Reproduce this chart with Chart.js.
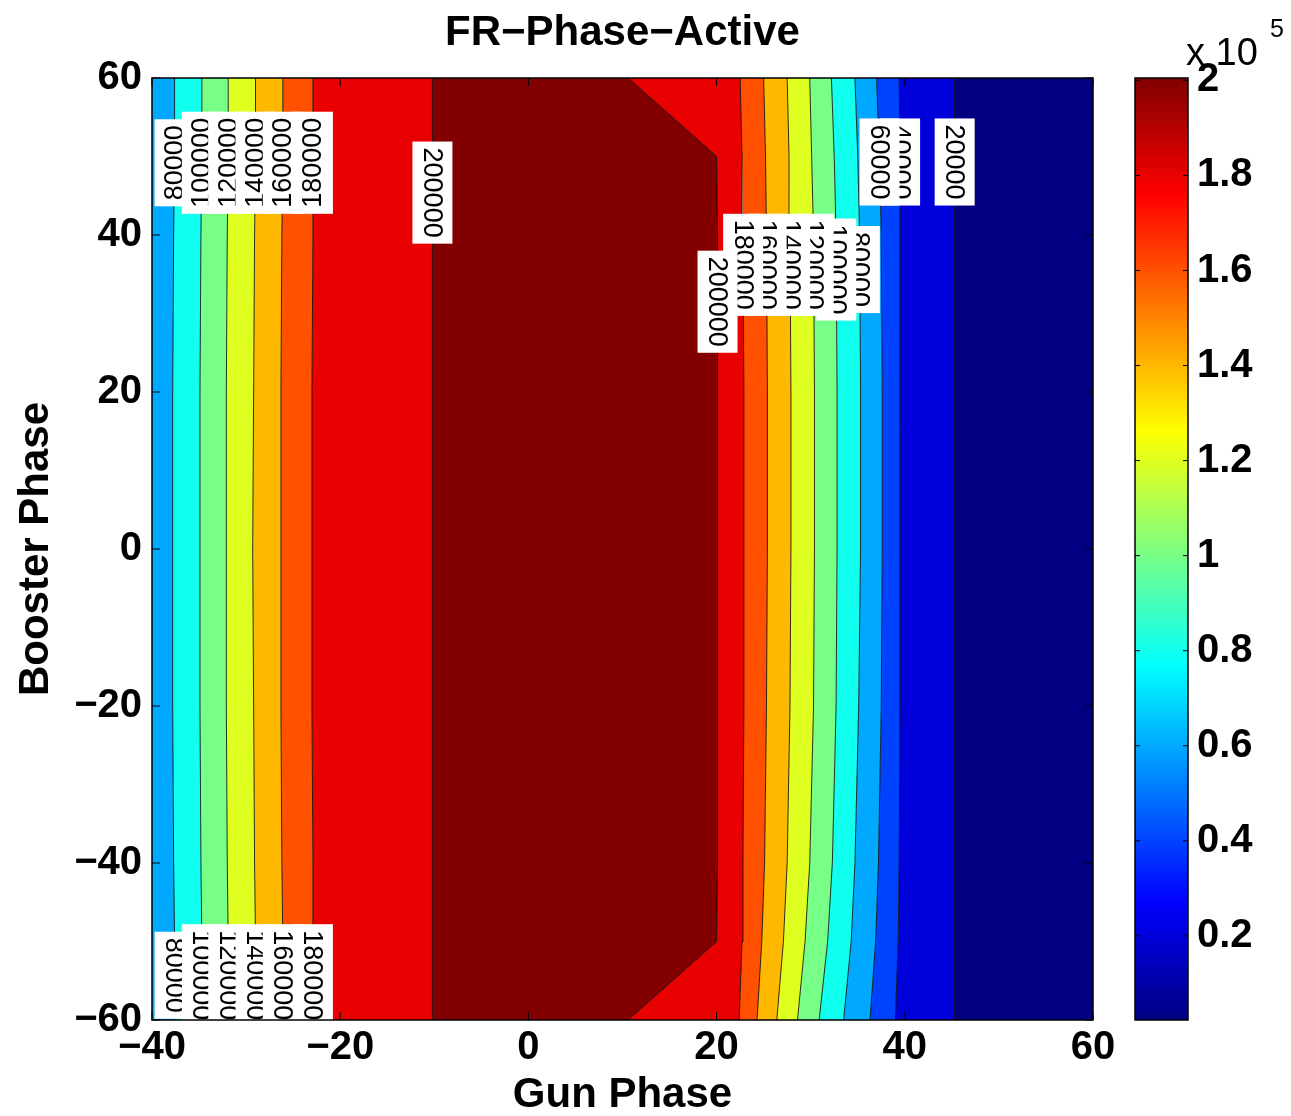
<!DOCTYPE html>
<html>
<head>
<meta charset="utf-8">
<script src="https://cdn.jsdelivr.net/npm/chart.js@4.4.1/dist/chart.umd.min.js"></script>
<style>
  html, body { margin: 0; padding: 0; background: #fff; }
</style>
</head>
<body>
<canvas id="myChart" width="1291" height="1116"></canvas>
<script>
// axis ticks
const gunTicks = [-40, -20, 0, 20, 40, 60];
const boosterTicks = [-60, -40, -20, 0, 20, 40, 60];
const colorTicks = [0.2, 0.4, 0.6, 0.8, 1, 1.2, 1.4, 1.6, 1.8, 2]; // x 10^5
const colorMin = 2300;
const colorMax = 200500;

// booster phase rows at which the contour positions were read
const boosterRows = [-60, -50, -40, -20, 0, 20, 40, 50, 60];

// gun phase of each contour, rising side (left of the peak)
const rise80000  = [-37.6, -37.6, -37.7, -37.8, -37.8, -37.8, -37.7, -37.6, -37.6];
const rise100000 = [-34.7, -34.7, -34.8, -34.9, -34.9, -34.9, -34.8, -34.7, -34.7];
const rise120000 = [-31.9, -31.9, -32.0, -32.1, -32.1, -32.1, -32.0, -31.9, -31.9];
const rise140000 = [-29.0, -29.0, -29.1, -29.2, -29.3, -29.2, -29.1, -29.0, -29.0];
const rise160000 = [-26.1, -26.1, -26.2, -26.3, -26.3, -26.3, -26.2, -26.1, -26.1];
const rise180000 = [-22.9, -22.9, -22.9, -23.0, -23.0, -23.0, -22.9, -22.9, -22.9];
const rise200000 = [-10.2, -10.2, -10.2, -10.2, -10.2, -10.2, -10.2, -10.2, -10.2];

// gun phase of each contour, falling side (right of the peak)
const fall200000 = [10.6, 20.0, 20.1, 20.1, 20.1, 20.1, 20.1, 20.0, 10.6];
const fall180000 = [22.4, 22.7, 22.8, 22.9, 22.9, 22.9, 22.8, 22.7, 22.5];
const fall160000 = [24.3, 24.8, 25.1, 25.3, 25.4, 25.4, 25.3, 25.2, 25.0];
const fall140000 = [26.4, 27.1, 27.5, 27.8, 27.9, 27.9, 27.8, 27.7, 27.5];
const fall120000 = [28.6, 29.4, 29.9, 30.3, 30.4, 30.4, 30.3, 30.1, 29.9];
const fall100000 = [30.9, 31.8, 32.3, 32.7, 32.8, 32.8, 32.7, 32.5, 32.2];
const fall80000  = [33.5, 34.3, 34.7, 35.1, 35.3, 35.3, 35.2, 35.0, 34.7];
const fall60000  = [36.3, 36.9, 37.2, 37.5, 37.6, 37.6, 37.5, 37.3, 37.0];
const fall40000  = [39.0, 39.3, 39.4, 39.5, 39.5, 39.5, 39.5, 39.5, 39.4];
const fall20000  = [45.3, 45.3, 45.3, 45.3, 45.3, 45.3, 45.3, 45.3, 45.3];

// inline contour labels (in drawing order): contour, level, booster phase, rotation
const contourLabels = [
  ['rise', 80000, 49.2, -90], ['rise', 100000, 49.2, -90], ['rise', 120000, 49.2, -90],
  ['rise', 140000, 49.2, -90], ['rise', 160000, 49.2, -90], ['rise', 180000, 49.2, -90],
  ['rise', 200000, 45.4, 90],
  ['rise', 80000, -54.3, 90], ['rise', 100000, -54.3, 90], ['rise', 120000, -54.3, 90],
  ['rise', 140000, -54.3, 90], ['rise', 160000, -54.3, 90], ['rise', 180000, -54.3, 90],
  ['fall', 20000, 49.3, 90], ['fall', 40000, 49.3, 90], ['fall', 60000, 49.3, 90],
  ['fall', 80000, 35.6, 90], ['fall', 100000, 35.6, 90], ['fall', 120000, 36.2, 90],
  ['fall', 140000, 36.2, 90], ['fall', 160000, 36.2, 90], ['fall', 180000, 36.2, 90],
  ['fall', 200000, 31.5, 90]
];

const riseContours = {80000: rise80000, 100000: rise100000, 120000: rise120000, 140000: rise140000,
  160000: rise160000, 180000: rise180000, 200000: rise200000};
const fallContours = {200000: fall200000, 180000: fall180000, 160000: fall160000, 140000: fall140000,
  120000: fall120000, 100000: fall100000, 80000: fall80000, 60000: fall60000, 40000: fall40000, 20000: fall20000};

function jet(t) {
  t = Math.min(1, Math.max(0, t));
  const c = v => Math.round(255 * Math.min(1, Math.max(0, v)));
  return 'rgb(' + c(1.5 - Math.abs(4 * t - 3)) + ',' + c(1.5 - Math.abs(4 * t - 2)) + ',' + c(1.5 - Math.abs(4 * t - 1)) + ')';
}
function levelColor(v) {
  return jet((v - colorMin) / (colorMax - colorMin));
}
function toPoints(xs) {
  return boosterRows.map((y, i) => ({x: xs[i], y: y}));
}
function gunAt(xs, y) {
  for (let i = 1; i < boosterRows.length; i++) {
    if (y <= boosterRows[i]) {
      const f = (y - boosterRows[i - 1]) / (boosterRows[i] - boosterRows[i - 1]);
      return xs[i - 1] + f * (xs[i] - xs[i - 1]);
    }
  }
  return xs[xs.length - 1];
}
function fmt(v) {
  return v < 0 ? '\u2212' + Math.abs(v) : String(v);
}

// boundaries from left to right, each one filling back to the previous one
const datasets = [];
function addBoundary(points, bandValue, line) {
  datasets.push({
    data: points,
    xAxisID: 'x',
    yAxisID: 'y',
    fill: datasets.length === 0 ? false : '-1',
    backgroundColor: bandValue === null ? 'rgba(0,0,0,0)' : levelColor(bandValue),
    borderColor: line ? 'rgba(0,0,0,0.8)' : 'rgba(0,0,0,0)',
    borderWidth: 1,
    pointRadius: 0,
    tension: 0
  });
}
addBoundary([{x: -40, y: -60}, {x: -40, y: 60}], null, false);
[80000, 100000, 120000, 140000, 160000, 180000, 200000].forEach(L => {
  addBoundary(toPoints(riseContours[L]), L - 20000, true);
});
[200000, 180000, 160000, 140000, 120000, 100000, 80000, 60000, 40000, 20000].forEach(L => {
  addBoundary(toPoints(fallContours[L]), L, true);
});
addBoundary([{x: 60, y: -60}, {x: 60, y: 60}], colorMin, false);

const fontFamily = "'Liberation Sans', Arial, sans-serif";
Chart.defaults.font.family = fontFamily;
Chart.defaults.color = '#000';

const framePlugin = {
  id: 'frame',
  afterDatasetsDraw(chart) {
    const ctx = chart.ctx;
    const xs = chart.scales.x, ys = chart.scales.y;
    // contour labels
    ctx.save();
    ctx.font = '27px ' + fontFamily;
    ctx.textAlign = 'center';
    ctx.textBaseline = 'middle';
    contourLabels.forEach(([side, level, y, rot]) => {
      const xsArr = side === 'rise' ? riseContours[level] : fallContours[level];
      const px = xs.getPixelForValue(gunAt(xsArr, y));
      const py = ys.getPixelForValue(y);
      const txt = String(level);
      const w = ctx.measureText(txt).width + 12;
      const h = 40;
      ctx.save();
      ctx.translate(px, py);
      ctx.rotate(rot * Math.PI / 180);
      ctx.fillStyle = '#fff';
      ctx.fillRect(-w / 2, -h / 2, w, h);
      ctx.fillStyle = '#000';
      ctx.fillText(txt, 0, 1);
      ctx.restore();
    });
    ctx.restore();
  },
  afterDraw(chart) {
    const ctx = chart.ctx;
    const a = chart.chartArea;
    const xs = chart.scales.x, ys = chart.scales.y, cb = chart.scales.cb;
    ctx.save();
    // plot frame and inward ticks
    ctx.strokeStyle = '#000';
    ctx.lineWidth = 1.5;
    ctx.strokeRect(a.left, a.top, a.right - a.left, a.bottom - a.top);
    ctx.lineWidth = 1;
    ctx.beginPath();
    gunTicks.forEach(v => {
      const p = xs.getPixelForValue(v);
      ctx.moveTo(p, a.bottom); ctx.lineTo(p, a.bottom - 8);
      ctx.moveTo(p, a.top); ctx.lineTo(p, a.top + 8);
    });
    boosterTicks.forEach(v => {
      const p = ys.getPixelForValue(v);
      ctx.moveTo(a.left, p); ctx.lineTo(a.left + 8, p);
      ctx.moveTo(a.right, p); ctx.lineTo(a.right - 8, p);
    });
    ctx.stroke();

    // colour bar
    const bx = a.right + 42, bw = 53;
    const bTop = cb.getPixelForValue(colorMax), bBot = cb.getPixelForValue(colorMin);
    const g = ctx.createLinearGradient(0, bBot, 0, bTop);
    [0, 0.125, 0.375, 0.625, 0.875, 1].forEach(t => g.addColorStop(t, jet(t)));
    ctx.fillStyle = g;
    ctx.fillRect(bx, bTop, bw, bBot - bTop);
    ctx.lineWidth = 1.5;
    ctx.strokeRect(bx, bTop, bw, bBot - bTop);
    ctx.lineWidth = 1;
    ctx.beginPath();
    colorTicks.forEach(v => {
      const p = cb.getPixelForValue(v * 1e5);
      ctx.moveTo(bx, p); ctx.lineTo(bx + 5, p);
      ctx.moveTo(bx + bw, p); ctx.lineTo(bx + bw - 5, p);
    });
    ctx.stroke();

    // exponent of the colour bar
    ctx.fillStyle = '#000';
    ctx.textBaseline = 'alphabetic';
    ctx.textAlign = 'left';
    ctx.font = '38px ' + fontFamily;
    ctx.fillText('x 10', bx + 51, 65);
    ctx.font = '25px ' + fontFamily;
    ctx.fillText('5', bx + 135, 37);

    // title
    ctx.font = 'bold 42px ' + fontFamily;
    ctx.textAlign = 'center';
    ctx.fillText('FR\u2212Phase\u2212Active', (a.left + a.right) / 2, 45);
    ctx.restore();
  }
};

const tickFont = {size: 40, weight: 'bold'};
const titleFont = {size: 42, weight: 'bold', lineHeight: 1};

const ctx = document.getElementById('myChart').getContext('2d');
const myChart = new Chart(ctx, {
  type: 'line',
  data: { datasets: datasets },
  options: {
    indexAxis: 'y',
    responsive: false,
    animation: false,
    layout: { padding: { top: 78, right: 0, bottom: 0, left: 0 } },
    plugins: {
      legend: { display: false },
      tooltip: { enabled: false },
      filler: { drawTime: 'beforeDatasetsDraw' }
    },
    scales: {
      x: {
        type: 'linear', position: 'bottom', min: -40, max: 60,
        afterBuildTicks: s => { s.ticks = gunTicks.map(v => ({value: v})); },
        afterFit: s => { s.height = 96; s.paddingLeft = 0; s.paddingRight = 0; },
        grid: { display: false, drawTicks: false },
        border: { display: false },
        ticks: { font: tickFont, color: '#000', padding: 4, maxRotation: 0, autoSkip: false, callback: fmt },
        title: { display: true, text: 'Gun Phase', font: titleFont, color: '#000', padding: { top: 0, bottom: 0 } }
      },
      y: {
        type: 'linear', position: 'left', min: -60, max: 60,
        afterBuildTicks: s => { s.ticks = boosterTicks.map(v => ({value: v})); },
        afterFit: s => { s.width = 152; s.paddingTop = 0; s.paddingBottom = 0; },
        grid: { display: false, drawTicks: false },
        border: { display: false },
        ticks: { font: tickFont, color: '#000', padding: 10, autoSkip: false, callback: fmt },
        title: { display: true, text: 'Booster Phase', font: titleFont, color: '#000', padding: { top: 15, bottom: 0 } }
      },
      cb: {
        type: 'linear', position: 'right', min: colorMin, max: colorMax,
        afterBuildTicks: s => { s.ticks = colorTicks.map(v => ({value: v * 1e5})); },
        afterFit: s => { s.width = 198; s.paddingTop = 0; s.paddingBottom = 0; },
        grid: { display: false, drawTicks: false },
        border: { display: false },
        ticks: { font: tickFont, color: '#000', padding: 104, autoSkip: false,
                 callback: v => String(Math.round(v / 1e4) / 10) }
      }
    }
  },
  plugins: [framePlugin]
});
</script>
</body>
</html>
